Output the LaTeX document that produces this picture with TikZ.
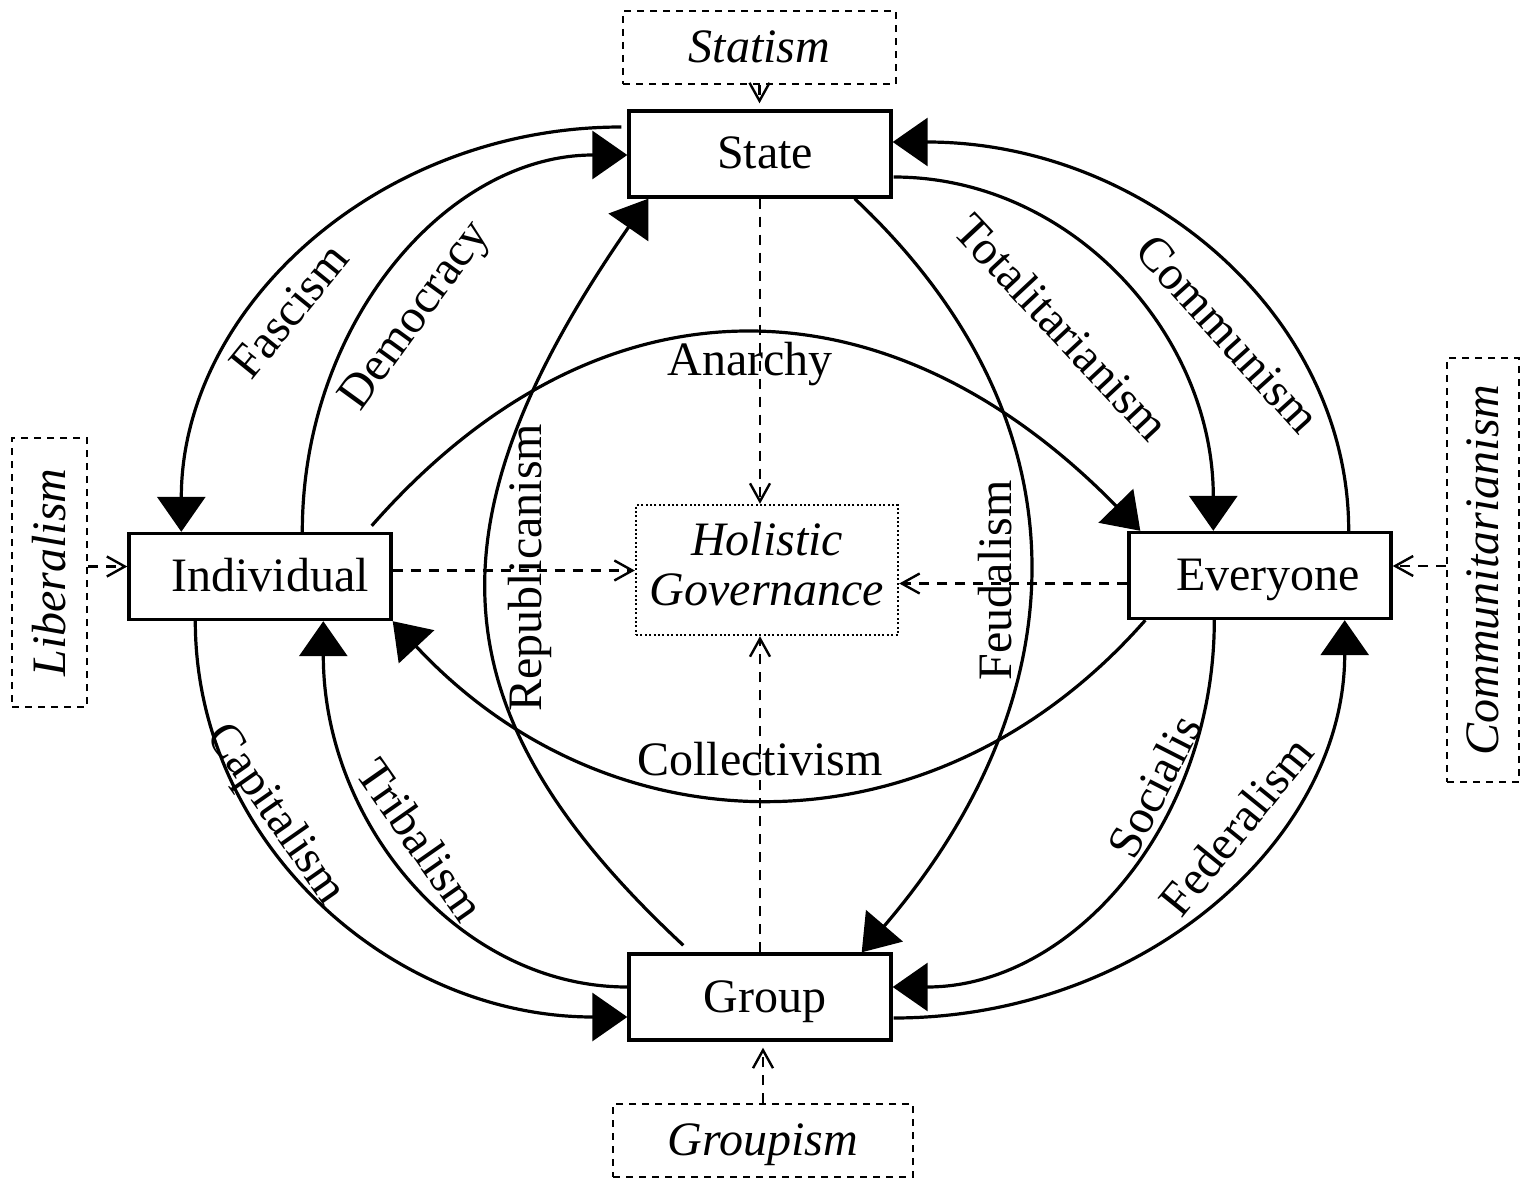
\documentclass[tikz,border=0pt]{standalone}
\usepackage{fontspec}
\usepackage{graphicx}
\setmainfont{Liberation Serif}
\usetikzlibrary{arrows.meta,calc}
\begin{document}
\begin{tikzpicture}[x=0.5pt,y=-0.5pt,
  every node/.style={font=\fontsize{24}{25}\selectfont},
  mainbox/.style={draw,line width=1.7pt,minimum width=131pt,minimum height=43pt,
    inner sep=0pt,text height=15pt,text depth=0pt},
  sourcebox/.style={draw,line width=1pt,dash pattern=on 3.5pt off 3pt,inner sep=0pt,
    font=\fontsize{24}{25}\selectfont\itshape},
  goalbox/.style={draw,line width=1.2pt,dash pattern=on 1pt off 1.2pt,
    minimum width=131pt,minimum height=65pt,inner sep=0pt,
    font=\fontsize{24}{25}\selectfont\itshape},
  flow/.style={line width=1.6pt,-{Triangle[length=17.5pt,width=24pt]}},
  feed/.style={line width=1.2pt,dash pattern=on 5pt off 4pt,
    -{Straight Barb[length=9pt,width=10pt]}},
  tag/.style={inner sep=0pt}
]
\useasboundingbox (0,0) rectangle (1520,1182);
\clip (0,0) rectangle (1520,1182);

% the four actors
\node[mainbox] (state)      at (760,154)    {\hspace*{5pt}State};
\node[mainbox] (individual) at (260,576.5)  {\hspace*{10pt}Individual};
\node[mainbox] (everyone)   at (1260,575.5) {\hspace*{8pt}Everyone};
\node[mainbox] (group)      at (760,997)    {\hspace*{5pt}Group};

% centre
\node[goalbox] (holistic) at (767,570) {\begin{tabular}{@{}c@{}}Holistic\\Governance\end{tabular}};

% the four -isms feeding each actor
\node[sourcebox,minimum width=136.5pt,minimum height=36.5pt,text height=15pt,text depth=0pt]
  (statism) at (759.5,47.5) {Statism};
\node[sourcebox,minimum width=150pt,minimum height=36.5pt,text height=15pt,text depth=0pt]
  (groupism) at (763,1140.5) {Groupism};
\node[sourcebox,minimum width=37.5pt,minimum height=134.5pt]
  (liberalism) at (49.5,572.5) {\rotatebox{90}{Liberalism}};
\node[sourcebox,minimum width=36pt,minimum height=212pt]
  (communitarianism) at (1483,570) {\rotatebox{90}{Communitarianism}};

% relations between actors
\draw[flow] ($(state.west)+(-6,-27)$) .. controls +(-243,0) and +(0,-224) .. ($(individual.north west)+(54,0)$);
\draw[flow] ($(individual.north west)+(175,0)$) .. controls +(0,-209) and +(-180,0) .. ($(state.west)+(0,1)$);
\draw[flow] ($(group.north west)+(56,-7)$) .. controls +(-248,-231) and +(-226,326) .. ($(state.south west)+(21,0)$);
\draw[flow] ($(individual.north east)+(-21,-6)$) .. controls +(232,-264) and +(-248,-254) .. ($(everyone.north west)+(13,0)$);
\draw[flow] ($(state.east)+(1,23)$) .. controls +(178,0) and +(0,-196) .. ($(everyone.north west)+(86,0)$);
\draw[flow] ($(everyone.north east)+(-44,0)$) .. controls +(0,-216) and +(252,0) .. ($(state.east)+(0,-12)$);
\draw[flow] ($(state.south east)+(-38,0)$) .. controls +(241,227) and +(215,-251) .. ($(group.north east)+(-31,0)$);
\draw[flow] ($(everyone.south west)+(18,0)$) .. controls +(-211,240) and +(218,234) .. (individual.south east);
\draw[flow] ($(individual.south west)+(68,0)$) .. controls +(0,219) and +(-239,0) .. ($(group.west)+(0,20)$);
\draw[flow] ($(group.west)+(0,-10)$) .. controls +(-167,0) and +(0,203) .. ($(individual.south west)+(196,0)$);
\draw[flow] ($(everyone.south west)+(87,0)$) .. controls +(0,203) and +(180,0) .. ($(group.east)+(0,-10)$);
\draw[flow] ($(group.east)+(1,21)$) .. controls +(249,0) and +(0,220) .. ($(everyone.south east)+(-48,0)$);

% relation labels
\node[tag,rotate=51] (lfascism)   at (289,311)  {Fascism};
\node[tag,rotate=54] (ldemocracy) at (417,317)  {Democracy};
\node[tag,rotate=90] (lrepublic)  at (530,568)  {Republicanism};
\node[tag,anchor=base] (lanarchy) at (750,375)  {Anarchy};
\node[tag,rotate=-47] (ltotal)    at (1062,327) {Totalitarianism};
\node[tag,rotate=-48] (lcommunism) at (1228,334) {Communism};
\node[tag,rotate=90] (lfeudal)    at (995,580)  {Feudalism};
\node[tag,anchor=base] (lcollect) at (760,775)  {Collectivism};
\node[tag,rotate=-55] (lcapital)  at (275,815)  {Capitalism};
\node[tag,rotate=-55] (ltribal)   at (421,840)  {Tribalism};
\node[tag,rotate=63] (lsocial)    at (1154,786) {Socialis};
\node[tag,rotate=51] (lfederal)   at (1236,826) {Federalism};

% dashed influences
\draw[feed,shorten >=3pt] (statism.south) -- (statism.south |- state.north);
\draw[feed,shorten >=3pt] (groupism.north) -- (groupism.north |- group.south);
\draw[feed] ($(liberalism.east)+(0,-6)$) -- ($(individual.west)+(0,-10)$);
\draw[feed] ($(communitarianism.west)+(0,-4)$) -- ($(everyone.east)+(0,-9.5)$);
\draw[feed] ($(individual.east)+(0,-6)$) -- ($(holistic.west)+(0,0.5)$);
\draw[feed] ($(everyone.west)+(0,8)$) -- ($(holistic.east)+(0,13.5)$);
\draw[feed] (state.south) -- (state.south |- holistic.north);
\draw[feed] (group.north) -- (group.north |- holistic.south);
\end{tikzpicture}
\end{document}
